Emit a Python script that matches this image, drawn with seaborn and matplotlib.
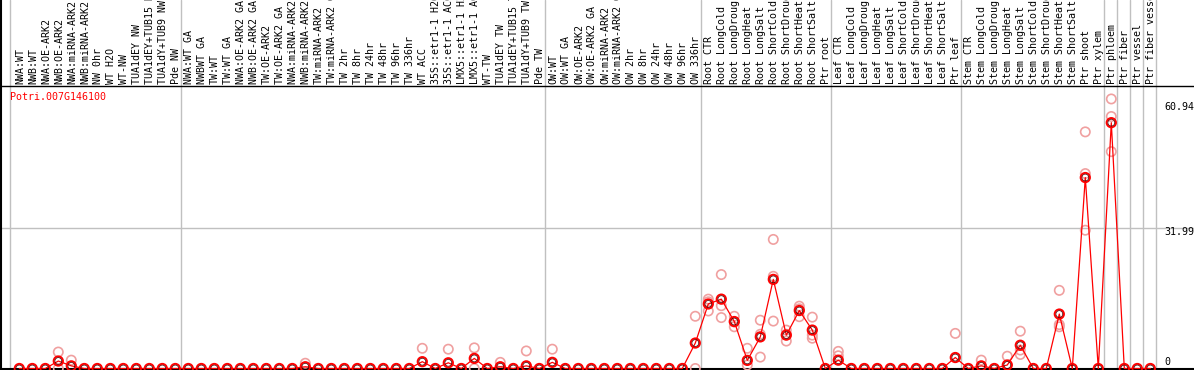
import numpy as np
import pandas as pd
import seaborn as sns
import matplotlib.pyplot as plt

samples = ['NWA:WT', 'NWB:WT', 'NWA:OE-ARK2', 'NWB:OE-ARK2', 'NWA:miRNA-ARK2', 'NWB:miRNA-ARK2',
           'NW 0hr', 'WT H2O', 'WT-NW', 'TUA1dEY NW', 'TUA1dEY+TUB15 NW', 'TUA1dY+TUB9 NW', 'Pde NW',
           'NWA:WT GA', 'NWBWT GA', 'TW:WT', 'TW:WT GA', 'NWA:OE-ARK2 GA', 'NWB:OE-ARK2 GA',
           'TW:OE-ARK2', 'TW:OE-ARK2 GA', 'NWA:miRNA-ARK2 GA', 'NWB:miRNA-ARK2 GA', 'TW:miRNA-ARK2',
           'TW:miRNA-ARK2 GA', 'TW 2hr', 'TW 8hr', 'TW 24hr', 'TW 48hr', 'TW 96hr', 'TW 336hr',
           'WT ACC', '35S::etr1-1 H2O', '35S::etr1-1 ACC', 'LMX5::etr1-1 H2O', 'LMX5::etr1-1 ACC',
           'WT-TW', 'TUA1dEY TW', 'TUA1dEY+TUB15 TW', 'TUA1dY+TUB9 TW', 'Pde TW',
           'OW:WT', 'OW:WT GA', 'OW:OE-ARK2', 'OW:OE-ARK2 GA', 'OW:miRNA-ARK2', 'OW:miRNA-ARK2 GA',
           'OW 2hr', 'OW 8hr', 'OW 24hr', 'OW 48hr', 'OW 96hr', 'OW 336hr',
           'Root CTR', 'Root LongCold', 'Root LongDrought', 'Root LongHeat', 'Root LongSalt',
           'Root ShortCold', 'Root ShortDrought', 'Root ShortHeat', 'Root ShortSalt', 'Ptr root',
           'Leaf CTR', 'Leaf LongCold', 'Leaf LongDrought', 'Leaf LongHeat', 'Leaf LongSalt',
           'Leaf ShortCold', 'Leaf ShortDrought', 'Leaf ShortHeat', 'Leaf ShortSalt', 'Ptr leaf',
           'Stem CTR', 'Stem LongCold', 'Stem LongDrought', 'Stem LongHeat', 'Stem LongSalt',
           'Stem ShortCold', 'Stem ShortDrought', 'Stem ShortHeat', 'Stem ShortSalt', 'Ptr shoot',
           'Ptr xylem', 'Ptr phloem', 'Ptr fiber', 'Ptr vessel', 'Ptr fiber vessel']

mean_expr = [0, 0, 0, 1.7, 0.6, 0, 0, 0, 0, 0, 0, 0, 0,
             0, 0, 0, 0, 0, 0, 0, 0, 0, 0.4, 0, 0, 0, 0, 0, 0, 0, 0,
             1.55, 0, 1.3, 0, 2.3, 0, 0.4, 0, 0.6, 0,
             1.4, 0, 0, 0, 0, 0, 0, 0, 0, 0, 0, 5.8,
             14.7, 15.8, 10.7, 1.85, 7.2, 20.3, 7.6, 13.2, 8.75, 0,
             1.9, 0, 0, 0, 0, 0, 0, 0, 0, 2.5,
             0, 0.6, 0, 0.8, 5.3, 0, 0, 12.4, 0, 43.5,
             0, 56.0, 0, 0, 0]

# replicate values (sample index, value)
rep_idx = [3, 3, 4, 22, 31, 33, 35, 35, 37, 39, 41,
           52, 52, 53, 53, 53, 54, 54, 54, 55, 55, 55, 56, 56, 57, 57, 57,
           58, 58, 58, 59, 59, 59, 60, 60, 60, 61, 61, 61, 63, 63,
           72, 74, 76, 77, 77, 77, 80, 80, 80, 82, 82, 82, 84, 84, 84]
rep_val = [3.75, 0, 1.9, 1.2, 4.6, 4.4, 4.7, 0, 1.4, 4.0, 4.4,
           11.9, 0, 15.8, 13.1, 15.2, 21.4, 14.3, 11.6, 11.9, 9.5, 10.6, 4.6, 0.8, 11.0, 7.8, 2.6,
           29.4, 21.0, 10.8, 8.75, 6.25, 7.8, 14.2, 11.8, 13.6, 11.7, 7.6, 6.9, 3.9, 2.9,
           8.0, 1.9, 2.8, 8.5, 3.2, 4.2, 17.8, 9.5, 10.0, 53.9, 44.4, 31.5, 61.4, 57.4, 49.4]

group_lines = [-0.7, 12.4, 40.4, 52.4, 62.4, 72.4, 83.4, 84.4, 85.4, 86.4, 87.4]
ytick_vals = ['60.94', '31.99', '0']
gene = 'Potri.007G146100'

sns.set_theme(style='white')
plt.rcParams['font.family'] = ['DejaVu Sans Mono', 'DejaVu Sans']

mean_df = pd.DataFrame({'x': np.arange(len(samples)), 'y': mean_expr})
rep_df = pd.DataFrame({'x': rep_idx, 'y': rep_val})

fig = plt.figure(figsize=(11.94, 3.70), dpi=100)
ax = fig.add_axes([0, 0, 1, 1])
ax.set_xlim(-19.3 / 13, (1194 - 19.3) / 13)
ax.set_ylim(-1.5 / 4.39, 368.5 / 4.39)

for gx in group_lines:
    ax.axvline(gx, color='#c0c0c0', lw=1, zorder=1)
ax.axhline(31.99, color='#c0c0c0', lw=1, zorder=1)
ax.axhline((368.5 - 86) / 4.39, color='black', lw=1, zorder=2)
ax.axhline(-0.1, color='black', lw=1.5, zorder=2)
ax.axvline(-1.41, color='black', lw=1.5, zorder=2)

sns.scatterplot(data=rep_df, x='x', y='y', ax=ax, marker='o', s=45, facecolors='none',
                edgecolor='#f0a0a0', linewidth=1.2, zorder=3)
sns.lineplot(data=mean_df, x='x', y='y', ax=ax, color='red', lw=0.9, zorder=4)
sns.scatterplot(data=mean_df, x='x', y='y', ax=ax, marker='o', s=45, facecolors='none',
                edgecolor='red', linewidth=1.4, zorder=5)
sns.scatterplot(data=mean_df, x='x', y='y', ax=ax, marker='o', s=24, facecolors='none',
                edgecolor='#400000', linewidth=0.5, zorder=6)

label_y = (368.5 - 84) / 4.39
for i, s in enumerate(samples):
    ax.text(i + 0.05, label_y, s, rotation=90, ha='center', va='bottom', fontsize=7.2,
            color='black', clip_on=True)

ax.text(-0.72, (368.5 - 97) / 4.39, gene, color='red', fontsize=7.2, ha='left', va='center')

xt = (1164 - 19.3) / 13
for lab, py in zip(ytick_vals, [107, 232, 362]):
    ax.text(xt, (368.5 - py) / 4.39, lab, fontsize=7.2, ha='left', va='center', color='black')

ax.set_xlabel('')
ax.set_ylabel('')
ax.set_xticks([])
ax.set_yticks([])
for sp in ax.spines.values():
    sp.set_visible(False)

fig.savefig('out.png', dpi=100)
